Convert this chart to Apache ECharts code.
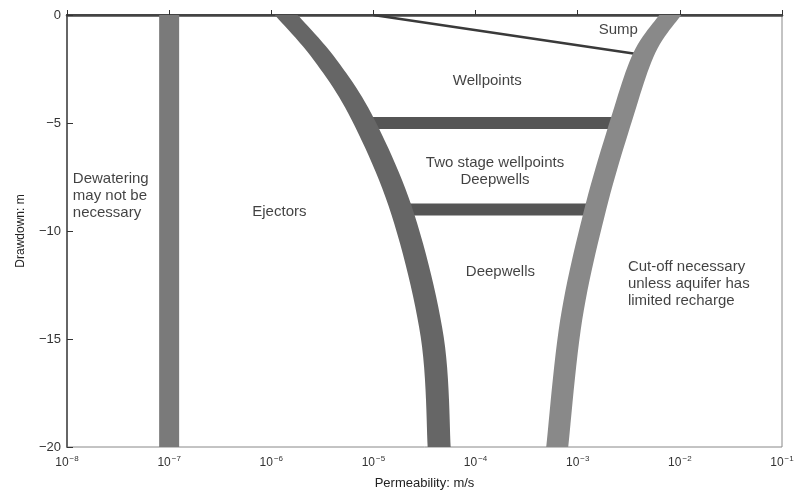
<!DOCTYPE html>
<html><head><meta charset="utf-8">
<script src="https://cdn.jsdelivr.net/npm/echarts@6/dist/echarts.min.js"></script>
<style>html,body{margin:0;padding:0;background:#fff}#c{width:800px;height:495px}</style>
</head><body><div id="c"></div>
<script>
// Permeability (m/s) and drawdown (m)
const dewaterK = [1.0e-7, 1.0e-7];
const dewaterD = [0, -20];
const ejectorK = [1.40e-6, 3.37e-6, 7.94e-6, 1.95e-5, 3.76e-5, 4.40e-5];
const ejectorD = [0, -2.08, -4.86, -9.26, -14.9, -20];
const deepK = [8.05e-3, 4.48e-3, 2.67e-3, 1.48e-3, 8.63e-4, 6.30e-4];
const deepD = [0, -1.76, -4.86, -9.03, -14.12, -20];
const wellpointBaseK = [7.9e-6, 2.6e-3];
const wellpointBaseD = [-5, -5];
const twoStageBaseK = [1.86e-5, 1.48e-3];
const twoStageBaseD = [-9, -9];
const sumpK = [1.0e-5, 4.4e-3];
const sumpD = [0, -1.85];

const xMinK = 1e-8, xMaxK = 1e-1;

const noteText = ['Sump', 'Wellpoints', 'Two stage wellpoints\nDeepwells', 'Dewatering\nmay not be\nnecessary',
  'Ejectors', 'Deepwells', 'Cut-off necessary\nunless aquifer has\nlimited recharge'];
const noteK = [2.5e-3, 1.3e-4, 1.55e-4, 1.14e-8, 1.2e-6, 1.75e-4, 3.1e-3];
const noteD = [-0.7, -3.05, -7.25, -8.35, -9.1, -11.9, -12.45];
const noteLeft = [false, false, false, true, false, false, true];

const zip = (a, b) => a.map((v, i) => [v, b[i]]);
const sup = n => '{b|10}{s|' + (n < 0 ? '\u2212' + (-n) : n) + '}';

// smooth a polyline of pixel points (Catmull-Rom) for drawing only
function smoothPts(p, steps) {
  if (p.length < 3) return p;
  const out = [];
  for (let i = 0; i < p.length - 1; i++) {
    const p0 = p[Math.max(0, i - 1)], p1 = p[i], p2 = p[i + 1], p3 = p[Math.min(p.length - 1, i + 2)];
    for (let s = 0; s < steps; s++) {
      const t = s / steps, t2 = t * t, t3 = t2 * t;
      out.push([0, 1].map(j => 0.5 * (2 * p1[j] + (-p0[j] + p2[j]) * t +
        (2 * p0[j] - 5 * p1[j] + 4 * p2[j] - p3[j]) * t2 + (-p0[j] + 3 * p1[j] - 3 * p2[j] + p3[j]) * t3)));
    }
  }
  out.push(p[p.length - 1]);
  return out;
}

const band = (name, k, d, halfW, color) => ({
  name, type: 'custom', data: zip(k, d), clip: true, silent: true, z: 3,
  renderItem: (params, api) => {
    if (params.dataIndex !== 0) return null;
    const c = smoothPts(k.map((kv, i) => api.coord([kv, d[i]])), 12);
    const left = c.map(p => [p[0] - halfW, p[1]]);
    const right = c.map(p => [p[0] + halfW, p[1]]).reverse();
    return { type: 'polygon', shape: { points: left.concat(right) }, style: { fill: color } };
  }
});
const bar = (k, d, w, color) => ({
  type: 'line', data: zip(k, d), symbol: 'none', silent: true, z: 2,
  lineStyle: { width: w, color, cap: 'butt' }
});

const chart = echarts.init(document.getElementById('c'));
chart.setOption({
  animation: false,
  textStyle: { fontFamily: 'Liberation Sans' },
  grid: { left: 67, right: 18, top: 15, bottom: 48, show: true, borderColor: '#888', borderWidth: 1 },
  xAxis: [{
    type: 'log', logBase: 10, min: xMinK, max: xMaxK,
    name: 'Permeability: m/s', nameLocation: 'middle', nameGap: 30,
    nameTextStyle: { fontSize: 13, color: '#222' },
    axisLine: { lineStyle: { color: '#444', width: 2 } },
    axisTick: { inside: true, length: 5, lineStyle: { color: '#333' } },
    splitLine: { show: false }, minorTick: { show: false },
    axisLabel: {
      margin: 8, color: '#333',
      formatter: v => sup(Math.round(Math.log10(v))),
      rich: { b: { fontSize: 12, color: '#333', lineHeight: 16 }, s: { fontSize: 8, color: '#333', verticalAlign: 'top', padding: [0, 0, 0, 1] } }
    }
  }, {
    type: 'log', logBase: 10, min: xMinK, max: xMaxK, position: 'top',
    axisLine: { lineStyle: { color: '#444', width: 2.5 } },
    axisTick: { show: false }, axisLabel: { show: false }, splitLine: { show: false }
  }],
  yAxis: {
    type: 'value', min: -20, max: 0, interval: 5,
    name: 'Drawdown: m', nameLocation: 'middle', nameGap: 40, nameRotate: 90,
    nameTextStyle: { fontSize: 12, color: '#222' },
    axisLine: { lineStyle: { color: '#666', width: 2 } },
    axisTick: { inside: true, length: 6, lineStyle: { color: '#333' } },
    splitLine: { show: false },
    axisLabel: { margin: 6, fontSize: 13, color: '#333', formatter: v => v < 0 ? '\u2212' + (-v) : String(v) }
  },
  series: [
    bar(sumpK, sumpD, 2.5, '#3a3a3a'),
    bar(wellpointBaseK, wellpointBaseD, 12, '#555555'),
    bar(twoStageBaseK, twoStageBaseD, 12, '#555555'),
    band('dewater', dewaterK, dewaterD, 10, '#7a7a7a'),
    band('ejector', ejectorK, ejectorD, 11.5, '#666666'),
    band('deep', deepK, deepD, 11, '#898989'),
    {
      type: 'scatter', symbolSize: 0, silent: true, z: 5,
      data: noteText.map((t, i) => ({
        name: t, value: [noteK[i], noteD[i]],
        label: { align: noteLeft[i] ? 'left' : 'center' }
      })),
      label: { show: true, position: 'inside', formatter: p => p.name, fontSize: 15, lineHeight: 17, color: '#111' }
    }
  ]
});
</script></body></html>
